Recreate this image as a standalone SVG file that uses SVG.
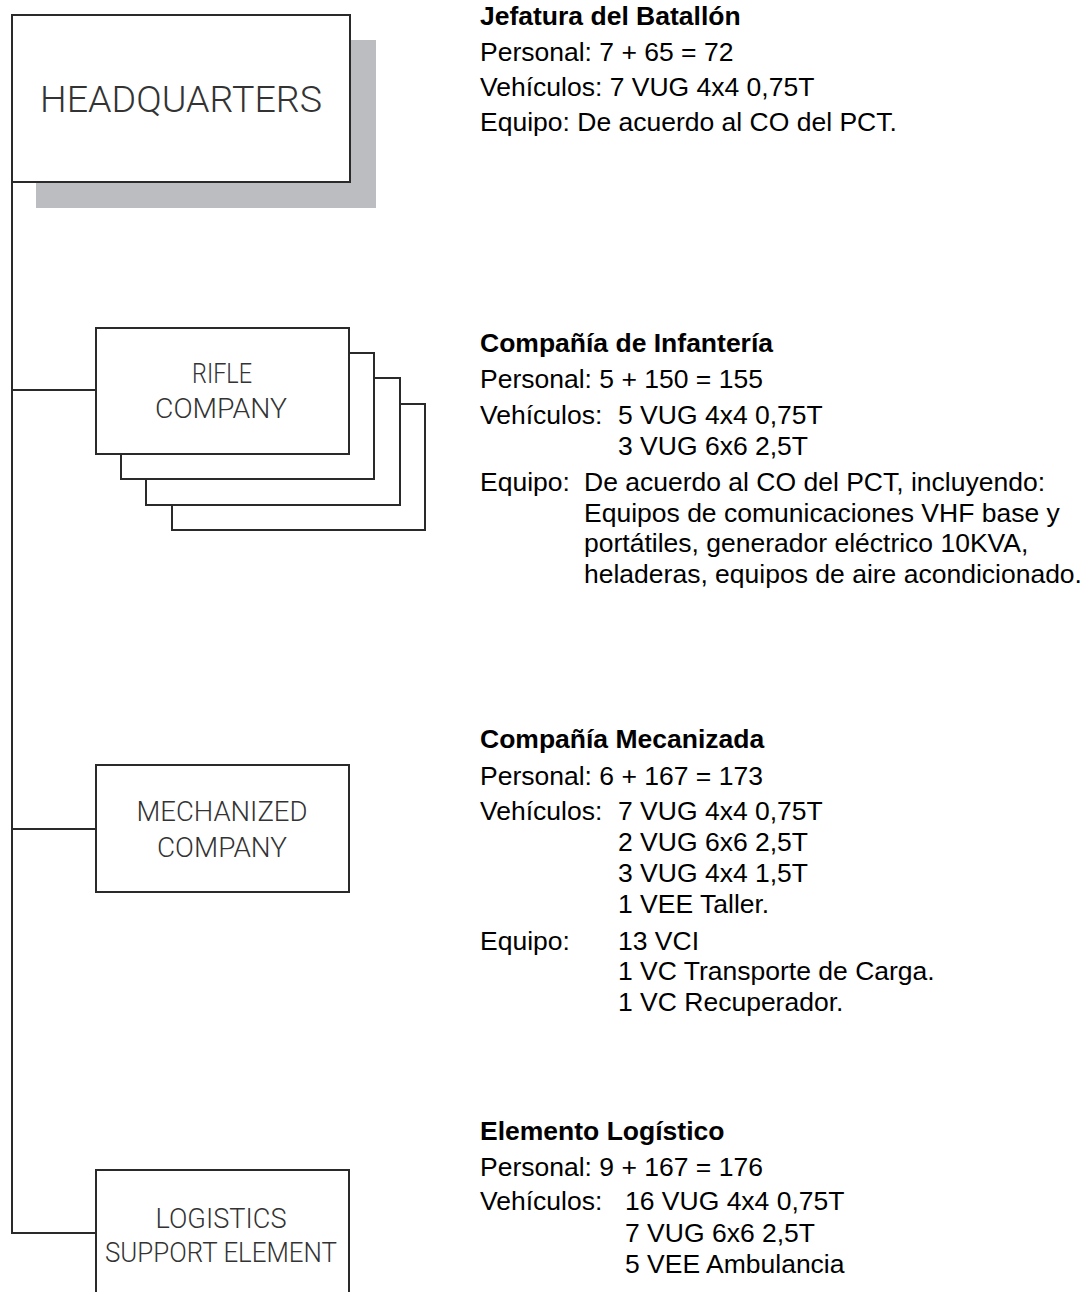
<svg xmlns="http://www.w3.org/2000/svg" width="1085" height="1292" viewBox="0 0 1085 1292">
<style>
.box{fill:#fff;stroke:#2a2a2a;stroke-width:2}
.shadow{fill:#bcbdc0}
.wire{fill:none;stroke:#2a2a2a;stroke-width:2}
.lbl{font-family:Roboto,"Liberation Sans",sans-serif;font-weight:300;fill:#333;text-anchor:middle}
.t{font-family:"Liberation Sans",Arial,sans-serif;font-size:26.5px;fill:#000}
.h{font-weight:bold}
</style>
<rect width="1085" height="1292" fill="#fff"/>
<g id="connectors">
<path class="wire" d="M12,182 V1233 H96"/>
<path class="wire" d="M12,390 H96"/>
<path class="wire" d="M12,829 H96"/>
</g>
<g id="hq">
<rect class="shadow" x="36" y="40" width="340" height="168"/>
<rect class="box" x="12" y="15" width="338" height="167"/>
<text class="lbl" x="181" y="112" font-size="37" textLength="282" lengthAdjust="spacingAndGlyphs">HEADQUARTERS</text>
</g>
<g id="rifle">
<rect class="box" x="172" y="404" width="253" height="126"/>
<rect class="box" x="146" y="378" width="254" height="127"/>
<rect class="box" x="121" y="353" width="253" height="126"/>
<rect class="box" x="96" y="328" width="253" height="126"/>
<text class="lbl" x="222" y="383" font-size="28" textLength="60" lengthAdjust="spacingAndGlyphs">RIFLE</text>
<text class="lbl" x="221" y="418" font-size="28" textLength="132" lengthAdjust="spacingAndGlyphs">COMPANY</text>
</g>
<g id="mech">
<rect class="box" x="96" y="765" width="253" height="127"/>
<text class="lbl" x="222" y="821" font-size="28" textLength="171" lengthAdjust="spacingAndGlyphs">MECHANIZED</text>
<text class="lbl" x="222" y="857" font-size="28" textLength="130" lengthAdjust="spacingAndGlyphs">COMPANY</text>
</g>
<g id="log">
<rect class="box" x="96" y="1170" width="253" height="140"/>
<text class="lbl" x="221" y="1228" font-size="28" textLength="131" lengthAdjust="spacingAndGlyphs">LOGISTICS</text>
<text class="lbl" x="221" y="1262" font-size="28" textLength="232" lengthAdjust="spacingAndGlyphs">SUPPORT ELEMENT</text>
</g>
<g id="desc-hq">
<text class="t h" x="480" y="25">Jefatura del Batallón</text>
<text class="t" x="480" y="61">Personal: 7 + 65 = 72</text>
<text class="t" x="480" y="96">Vehículos: 7 VUG 4x4 0,75T</text>
<text class="t" x="480" y="131">Equipo: De acuerdo al CO del PCT.</text>
</g>
<g id="desc-rifle">
<text class="t h" x="480" y="352">Compañía de Infantería</text>
<text class="t" x="480" y="388">Personal: 5 + 150 = 155</text>
<text class="t" x="480" y="424">Vehículos:</text>
<text class="t" x="618" y="424">5 VUG 4x4 0,75T</text>
<text class="t" x="618" y="455">3 VUG 6x6 2,5T</text>
<text class="t" x="480" y="491">Equipo:</text>
<text class="t" x="584" y="491">De acuerdo al CO del PCT, incluyendo:</text>
<text class="t" x="584" y="522">Equipos de comunicaciones VHF base y</text>
<text class="t" x="584" y="552">portátiles, generador eléctrico 10KVA,</text>
<text class="t" x="584" y="583">heladeras, equipos de aire acondicionado.</text>
</g>
<g id="desc-mech">
<text class="t h" x="480" y="748">Compañía Mecanizada</text>
<text class="t" x="480" y="785">Personal: 6 + 167 = 173</text>
<text class="t" x="480" y="820">Vehículos:</text>
<text class="t" x="618" y="820">7 VUG 4x4 0,75T</text>
<text class="t" x="618" y="851">2 VUG 6x6 2,5T</text>
<text class="t" x="618" y="882">3 VUG 4x4 1,5T</text>
<text class="t" x="618" y="913">1 VEE Taller.</text>
<text class="t" x="480" y="950">Equipo:</text>
<text class="t" x="618" y="950">13 VCI</text>
<text class="t" x="618" y="980">1 VC Transporte de Carga.</text>
<text class="t" x="618" y="1011">1 VC Recuperador.</text>
</g>
<g id="desc-log">
<text class="t h" x="480" y="1140">Elemento Logístico</text>
<text class="t" x="480" y="1176">Personal: 9 + 167 = 176</text>
<text class="t" x="480" y="1210">Vehículos:</text>
<text class="t" x="625" y="1210">16 VUG 4x4 0,75T</text>
<text class="t" x="625" y="1242">7 VUG 6x6 2,5T</text>
<text class="t" x="625" y="1273">5 VEE Ambulancia</text>
</g>
</svg>
